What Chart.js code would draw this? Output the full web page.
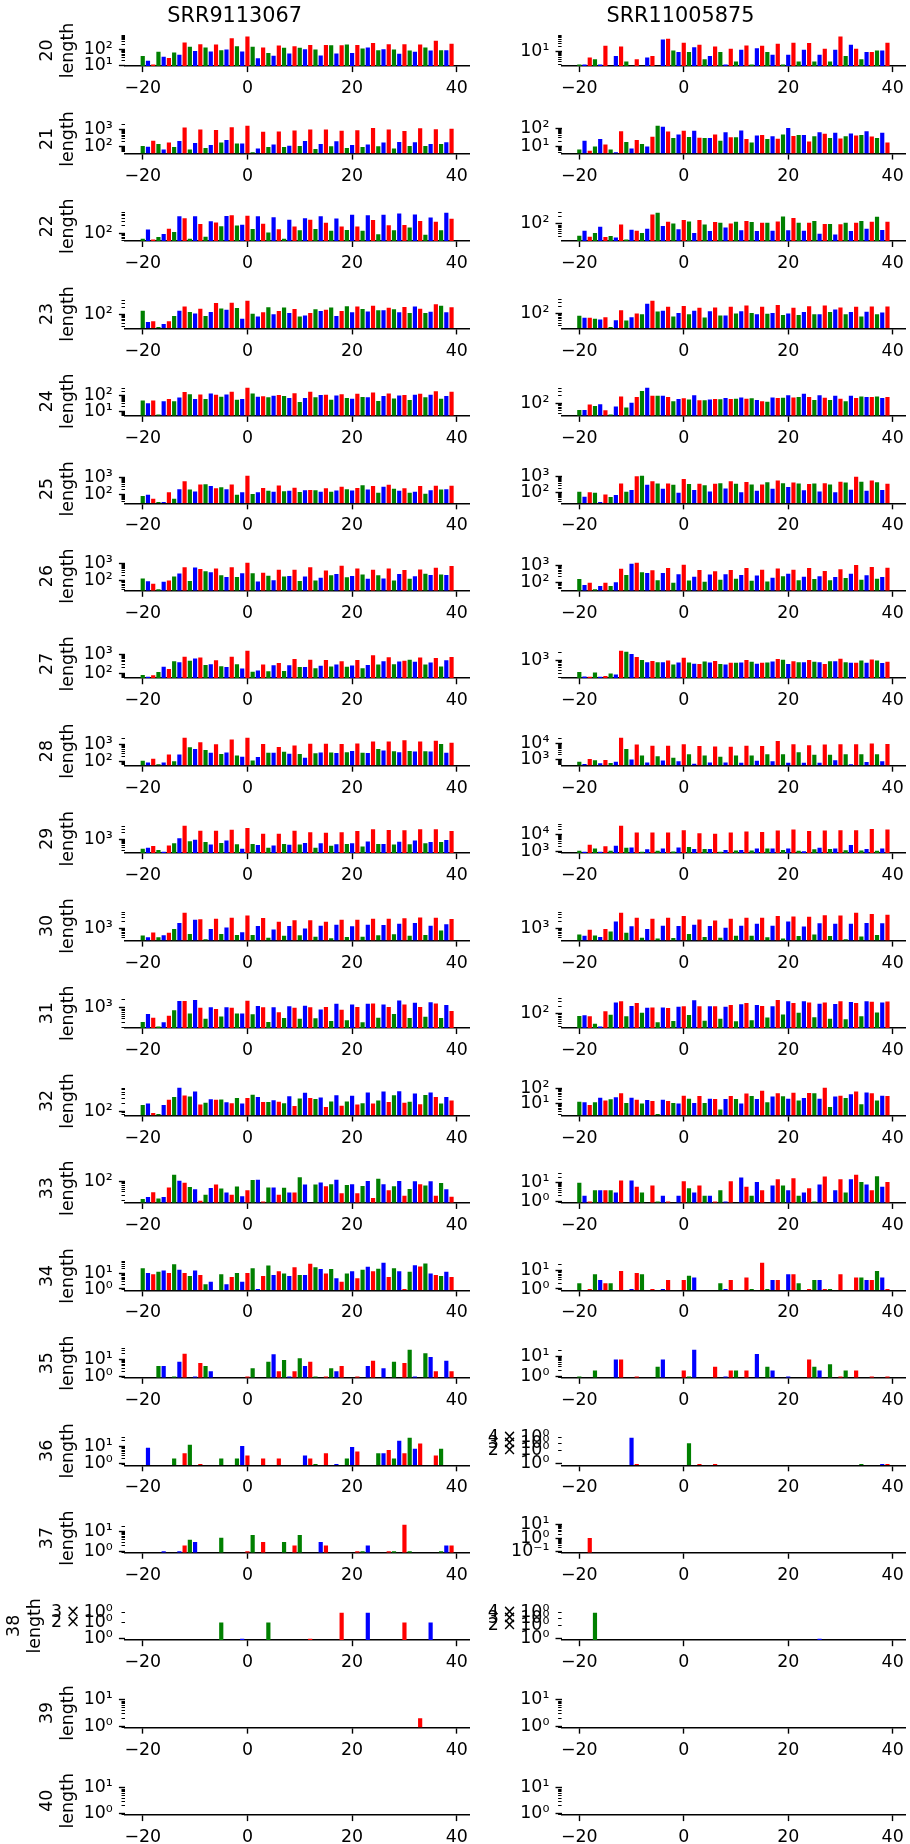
<!DOCTYPE html>
<html>
<head>
<meta charset="utf-8">
<title>Read length frame profiles</title>
<script src="https://cdn.jsdelivr.net/npm/chart.js"></script>
<style>
  html, body { margin: 0; padding: 0; background: #ffffff; }
  #fig { position: relative; width: 910px; height: 1844px; overflow: hidden; background: #ffffff; }
  #fig canvas { position: absolute; }
</style>
</head>
<body>
<div id="fig"></div>
<script>
// Positions relative to the start codon (one bar per nucleotide)
const positions = [-20, -19, -18, -17, -16, -15, -14, -13, -12, -11, -10, -9, -8, -7, -6, -5, -4, -3, -2, -1,
  0, 1, 2, 3, 4, 5, 6, 7, 8, 9, 10, 11, 12, 13, 14, 15, 16, 17, 18, 19,
  20, 21, 22, 23, 24, 25, 26, 27, 28, 29, 30, 31, 32, 33, 34, 35, 36, 37, 38, 39];
const readLengths = [20, 21, 22, 23, 24, 25, 26, 27, 28, 29, 30, 31, 32, 33, 34, 35, 36, 37, 38, 39, 40];
const samples = ['SRR9113067', 'SRR11005875'];
const xTickValues = [-20, 0, 20, 40];
// frame 0 / 1 / 2
const frameColours = ['#ff0000', '#008000', '#0000ff'];

// ---- SRR9113067 read counts per position, one array per read length ----
const srr9113067_20 = [39,19,11,72,35,29,65,47,274,147,79,214,133,74,205,91,100,508,161,74,676,147,28,133,59,40,177,127,56,161,127,105,195,100,42,195,187,56,187,205,59,195,115,133,261,91,105,214,100,53,214,86,72,205,133,86,365,91,91,235];
const srr9113067_21 = [113,102,230,146,69,180,98,222,1400,69,172,1050,85,128,1000,180,250,1450,158,158,1730,49,81,780,100,140,810,100,118,920,113,222,1050,75,146,1050,108,213,880,85,128,960,100,140,1290,108,180,1050,81,195,850,113,187,1230,113,146,1090,146,187,1180];
const srr9113067_22 = [61,141,56,71,94,154,112,487,410,60,487,237,73,307,274,194,500,530,205,224,516,150,487,244,109,447,145,60,355,188,133,410,355,150,487,266,126,398,188,137,562,188,126,530,344,92,562,211,133,630,217,173,580,316,87,433,290,133,668,387];
const srr9113067_23 = [140,45,49,27,37,49,83,140,215,124,106,174,83,124,310,179,158,321,185,63,386,103,78,120,203,100,136,196,113,169,78,88,113,163,136,158,196,83,136,222,120,215,169,132,236,149,149,191,163,120,209,113,215,174,113,128,276,236,120,203];
const srr9113067_24 = [49,32,49,6,43,60,43,76,176,126,60,120,60,139,115,87,120,184,54,60,324,139,87,91,79,100,110,95,72,146,39,72,184,79,110,115,54,105,126,72,63,132,83,79,160,45,95,139,65,105,110,52,115,132,79,115,193,63,95,184];
const srr9113067_25 = [81,96,56,37,37,134,56,204,605,195,152,382,398,310,231,262,204,382,96,134,1230,109,134,240,165,146,337,158,165,251,140,180,187,180,146,231,146,172,285,204,172,240,351,195,310,129,285,366,221,165,231,129,146,310,113,180,324,195,204,324];
const srr9113067_26 = [129,88,63,29,81,98,167,255,600,92,575,465,345,303,505,198,160,600,160,267,1090,267,84,278,190,100,427,167,182,427,92,167,600,96,141,390,198,234,740,153,182,505,225,124,427,198,129,505,96,234,408,124,174,445,245,206,550,225,206,710];
const srr9113067_27 = [83,67,80,120,223,173,431,386,746,465,600,669,278,306,481,240,215,746,299,180,1497,124,144,289,129,268,346,134,268,557,215,215,518,186,249,500,232,289,431,223,258,500,186,278,894,289,431,693,299,416,465,518,402,669,289,373,645,232,481,720];
const srr9113067_28 = [113,92,150,72,92,253,108,253,2240,668,525,1270,464,323,960,275,336,1830,224,191,2240,118,183,1000,323,323,693,364,286,817,275,169,1040,298,336,1040,336,310,1000,350,411,1083,323,310,1380,525,427,1380,395,350,1620,411,380,1380,395,380,1550,1000,323,1170];
const srr9113067_29 = [349,385,469,306,251,501,631,1100,4250,794,936,2510,720,553,2510,652,849,2770,571,349,3380,590,518,1810,385,501,1810,590,535,2510,553,652,2130,385,631,1995,485,571,2130,590,631,2430,440,769,2960,590,590,2680,553,744,2600,571,849,2960,631,720,2960,720,906,2430];
const srr9113067_30 = [509,424,692,424,525,671,970,1790,4930,593,2440,2590,352,970,2750,593,1130,3020,541,713,3750,541,1320,2930,410,940,2030,493,1320,2360,525,1030,2360,450,1360,2030,386,1490,2440,437,1280,2440,450,1490,2750,525,1445,2750,575,1635,2840,493,1790,3110,541,1360,3020,832,1585,2670];
const srr9113067_31 = [308,600,441,210,300,515,815,1755,1755,631,1945,1000,408,1050,903,489,1050,1000,631,631,1800,584,1166,1050,308,1050,699,430,1136,1000,408,1196,1050,419,880,1080,333,1395,858,359,1325,1080,300,1395,1430,441,1325,1080,600,1848,1325,430,1545,1080,476,1585,1430,430,1260,774];
const srr9113067_32 = [171,194,88,81,171,264,333,717,378,350,527,180,210,278,264,271,215,200,308,194,308,408,333,221,221,258,227,200,359,158,293,476,308,285,324,147,233,388,163,233,369,180,200,489,194,251,527,221,388,541,210,227,453,185,398,489,333,194,333,251];
const srr9113067_33 = [22,26,39,23,26,58,167,103,86,60,50,19,32,56,74,54,38,32,63,28,46,108,111,18,58,58,32,57,38,38,136,74,0,74,88,65,77,111,36,72,77,36,66,100,24,120,77,46,65,100,29,51,97,77,68,97,29,84,50,27];
const srr9113067_34 = [22,11,9,13,16,11,40,18,11,7,16,8,2,3,0,9,2,6,11,3,11,22,1,7,33,8,14,10,7,26,8,8,44,26,20,10,20,5,3,10,14,5,18,28,14,21,50,6,22,14,1,13,35,29,46,10,8,7,13,6];
const srr9113067_35 = [0,0,0,4,4,0,1,7,20,0,1,6,4,2,0,0,0,0,0,0,1,3,0,0,7,19,2,9,1,2,11,4,7,1,0,1,3,2,4,0,0,1,0,4,8,0,3,0,7,0,6,34,1,0,22,13,2,0,8,2];
const srr9113067_36 = [0,8,0,0,0,0,2,0,4,12,0,1,0,0,0,2,0,0,2,10,3,0,0,2,0,0,2,0,0,0,0,3,2,1,0,4,0,1,0,2,9,5,0,0,0,4,4,6,2,20,4,29,7,14,0,0,3,7,0,0];
const srr9113067_37 = [0,0,0,0,1,0,0,1,2,4,3,0,0,0,0,5,0,0,0,0,1,7,0,3,0,0,0,3,0,2,7,0,0,0,3,2,0,0,0,0,0,1,1,2,0,0,0,1,1,0,23,1,0,0,0,0,0,1,2,2];
const srr9113067_38 = [0,0,0,0,0,0,0,0,0,0,0,0,0,0,0,2,0,0,0,1,0,0,0,0,2,0,0,0,0,0,0,0,1,0,0,0,0,0,3,0,0,0,0,3,0,0,0,0,0,0,2,0,0,0,0,2,0,0,0,0];
const srr9113067_39 = [0,0,0,0,0,0,0,0,0,0,0,0,0,0,0,0,0,0,0,0,0,0,0,0,0,0,0,0,0,0,0,0,0,0,0,0,0,0,0,0,0,0,0,0,0,0,0,0,0,0,0,0,0,2,0,0,0,0,0,0];
const srr9113067_40 = [0,0,0,0,0,0,0,0,0,0,0,0,0,0,0,0,0,0,0,0,0,0,0,0,0,0,0,0,0,0,0,0,0,0,0,0,0,0,0,0,0,0,0,0,0,0,0,0,0,0,0,0,0,0,0,0,0,0,0,0];

// ---- SRR11005875 read counts per position, one array per read length ----
const srr11005875_20 = [2,2,5,4,2,22,0,6,20,3,0,4,0,5,6,0,49,53,12,10,32,10,18,25,4,6,20,10,2,15,3,13,23,2,16,22,10,7,28,2,7,32,3,13,31,3,7,15,3,13,72,6,25,15,4,10,10,12,12,32];
const srr11005875_21 = [7,21,6,10,26,13,7,5,68,18,8,23,14,10,34,135,120,66,29,46,74,33,74,30,29,29,46,21,61,32,32,76,26,17,40,43,26,37,27,46,104,38,43,43,19,37,61,50,29,56,28,37,52,40,43,68,36,29,56,17];
const srr11005875_22 = [33,53,30,43,77,29,32,28,94,23,58,53,43,63,244,282,82,122,103,61,145,126,43,145,94,52,119,112,71,103,122,55,133,119,52,112,112,53,126,200,55,173,112,53,112,133,40,100,100,37,97,112,52,112,133,63,122,194,56,122];
const srr11005875_23 = [81,67,67,61,56,71,27,52,140,51,71,103,94,267,352,124,132,196,76,106,215,94,132,179,69,128,185,83,83,196,103,128,222,106,94,196,100,106,236,88,103,179,88,117,209,94,94,222,117,149,185,94,117,196,76,120,203,94,113,203];
const srr11005875_24 = [53,53,89,77,92,52,35,73,188,67,106,178,316,422,200,200,200,178,122,150,158,141,211,133,133,141,150,145,163,150,154,173,154,158,137,122,115,173,163,168,211,173,178,244,178,137,211,168,137,200,154,122,200,163,188,178,178,188,163,178];
const srr11005875_25 = [119,59,109,104,28,81,57,74,385,119,154,1090,1140,323,521,385,184,385,323,104,738,352,154,368,296,124,368,400,192,521,368,109,478,338,135,338,457,184,594,400,238,437,385,148,352,385,124,400,338,109,500,437,161,1000,500,135,594,457,154,368];
const srr11005875_26 = [152,66,92,37,58,92,58,98,606,262,1180,1340,382,337,490,129,337,660,92,285,1040,123,204,512,104,273,433,134,285,512,158,262,660,118,240,533,109,180,630,221,310,533,129,204,660,152,221,452,129,195,556,172,310,1000,134,251,777,158,195,686];
const srr11005875_27 = [335,218,211,316,211,230,290,266,2440,2240,1830,1370,1030,841,944,841,841,972,668,818,1260,818,729,708,891,818,944,708,668,794,794,818,1030,866,729,794,818,891,1120,1060,708,917,841,841,1030,866,841,708,917,917,1155,841,794,794,972,794,1090,972,772,866];
const srr11005875_28 = [767,562,1140,957,614,1000,642,767,22400,4700,1045,8740,1860,702,7330,1700,915,7330,1365,838,9140,2220,588,7020,1860,702,6720,1560,702,6440,1860,672,7330,1860,876,7020,2220,838,14200,2220,672,9140,2890,672,8000,2030,672,8740,2030,957,9140,2220,538,9140,2220,733,10000,2220,838,9570];
const srr11005875_29 = [1090,960,2510,1520,960,2040,1090,2210,34100,1650,1720,13400,960,1340,13400,1090,1520,13400,1000,1720,18700,1870,1400,12300,1400,1400,11300,960,1230,13400,1130,1230,15800,1130,1520,14500,1520,1520,18000,1230,1520,20400,1090,1040,16600,1340,1650,18000,1400,1520,18700,1180,2410,18700,1130,1400,22100,1090,1520,20400];
const srr11005875_30 = [558,493,912,509,437,970,759,2090,4930,671,1280,3020,410,970,2750,374,1360,3020,398,1320,3630,593,1490,2510,437,1320,2290,410,1100,2750,493,1360,3020,493,1635,3020,424,1360,3630,374,2090,3410,479,1240,3310,558,1740,3860,479,1635,3750,352,1635,4930,464,1790,4370,541,1740,4100];
const srr11005875_31 = [82,87,79,40,31,126,92,282,316,79,205,266,109,173,178,46,178,168,52,188,200,89,345,200,53,200,200,63,188,224,50,237,266,56,224,205,71,200,355,94,316,266,109,316,282,73,251,282,63,244,316,60,290,266,79,316,299,112,282,307];
const srr11005875_32 = [13,12,8,12,24,16,19,26,48,11,24,18,10,17,15,2,18,15,11,10,33,21,11,32,11,21,20,4,20,32,20,10,46,32,20,72,12,29,48,30,21,52,16,23,50,48,21,110,6,29,33,23,42,63,9,55,48,16,33,32];
const srr11005875_33 = [10,2,1,4,4,4,4,3,13,0,13,6,3,0,7,1,2,1,0,2,12,5,3,7,2,2,1,4,1,12,0,19,6,2,11,4,0,7,15,7,4,17,2,3,5,1,8,21,0,4,15,3,15,26,11,8,4,22,6,11];
const srr11005875_34 = [2,0,1,6,3,2,2,0,9,0,1,7,6,0,1,0,1,3,0,0,3,5,4,0,0,0,0,2,1,3,0,0,4,1,0,24,1,3,3,0,6,6,2,0,1,3,3,1,1,0,6,0,0,4,4,3,3,9,4,1];
const srr11005875_35 = [1,0,0,2,0,0,0,7,7,0,0,1,0,0,0,3,7,0,0,0,2,1,21,0,0,0,3,0,1,2,2,0,2,0,13,0,3,2,0,0,1,0,0,0,7,3,2,0,4,0,1,2,0,2,0,0,1,0,0,1];
const srr11005875_36 = [0,0,0,0,0,0,0,0,0,0,4,1,0,0,0,0,0,0,0,0,0,3,0,1,0,0,1,0,0,0,0,0,0,0,0,0,0,0,0,0,0,0,0,0,0,0,0,0,0,0,0,0,0,0,1,0,0,0,1,1];
const srr11005875_37 = [0,0,1,0,0,0,0,0,0,0,0,0,0,0,0,0,0,0,0,0,0,0,0,0,0,0,0,0,0,0,0,0,0,0,0,0,0,0,0,0,0,0,0,0,0,0,0,0,0,0,0,0,0,0,0,0,0,0,0,0];
const srr11005875_38 = [0,0,0,4,0,0,0,0,0,0,0,0,0,0,0,0,0,0,0,0,0,0,0,0,0,0,0,0,0,0,0,0,0,0,0,0,0,0,0,0,0,0,0,0,0,0,1,0,0,0,0,0,0,0,0,0,0,0,0,0];
const srr11005875_39 = [0,0,0,0,0,0,0,0,0,0,0,0,0,0,0,0,0,0,0,0,0,0,0,0,0,0,0,0,0,0,0,0,0,0,0,0,0,0,0,0,0,0,0,0,0,0,0,0,0,0,0,0,0,0,0,0,0,0,0,0];
const srr11005875_40 = [0,0,0,0,0,0,0,0,0,0,0,0,0,0,0,0,0,0,0,0,0,0,0,0,0,0,0,0,0,0,0,0,0,0,0,0,0,0,0,0,0,0,0,0,0,0,0,0,0,0,0,0,0,0,0,0,0,0,0,0];

const countsBySample = [
  [srr9113067_20, srr9113067_21, srr9113067_22, srr9113067_23, srr9113067_24, srr9113067_25, srr9113067_26,
   srr9113067_27, srr9113067_28, srr9113067_29, srr9113067_30, srr9113067_31, srr9113067_32, srr9113067_33,
   srr9113067_34, srr9113067_35, srr9113067_36, srr9113067_37, srr9113067_38, srr9113067_39, srr9113067_40],
  [srr11005875_20, srr11005875_21, srr11005875_22, srr11005875_23, srr11005875_24, srr11005875_25, srr11005875_26,
   srr11005875_27, srr11005875_28, srr11005875_29, srr11005875_30, srr11005875_31, srr11005875_32, srr11005875_33,
   srr11005875_34, srr11005875_35, srr11005875_36, srr11005875_37, srr11005875_38, srr11005875_39, srr11005875_40]
];

// ---- layout (pixels) ----
const FONT_FAMILY = 'DejaVu Sans';
const TICK_SIZE = 17.4, TITLE_SIZE = 20.8, LINE_H = 1.2;
const MAJOR_TICK = 6.1, MINOR_TICK = 3.5, TICK_PAD = 6.1;
const FIRST_AXIS = 66, ROW_STEP = 87.45, PLOT_H = 31, TOP_PAD = 14, CANVAS_H = 88;
const BAR_WIDTH = 0.8;
const columns = [
  { left: 0,   width: 480, plotLeft: 125.0, plotRight: 469.3, yTitle: true },
  { left: 455, width: 455, plotLeft: 561.6, plotRight: 905.9, yTitle: false }
];

// x limits: bar extents plus 5% margins
const xLo = Math.min(...positions) - BAR_WIDTH / 2, xHi = Math.max(...positions) + BAR_WIDTH / 2;
const xMargin = 0.05 * (xHi - xLo);
const X_MIN = xLo - xMargin, X_MAX = xHi + xMargin;

function frameColour(x) { return frameColours[((x % 3) + 3) % 3]; }

function nearInt(v) { return Math.abs(v - Math.round(v)) < 1e-9; }

// log-axis view limits: positive data range widened to whole decades when flat, plus 5% margins
function viewLimits(values) {
  const pos = values.filter(v => v > 0);
  let lo, hi;
  if (pos.length === 0) { lo = 0; hi = 1; }
  else {
    lo = Math.log10(Math.min(...pos));
    hi = Math.log10(Math.max(...pos));
    if (hi - lo < 1e-12) {
      lo = nearInt(lo) ? Math.round(lo) - 1 : Math.floor(lo);
      hi = nearInt(hi) ? Math.round(hi) + 1 : Math.ceil(hi);
    }
  }
  const m = 0.05 * (hi - lo);
  return [Math.pow(10, lo - m), Math.pow(10, hi + m)];
}

function logTickValues(min, max) {
  const out = [];
  const e0 = Math.floor(Math.log10(min)), e1 = Math.ceil(Math.log10(max));
  for (let e = e0; e <= e1; e++) {
    for (let k = 1; k <= 9; k++) {
      const v = k * Math.pow(10, e);
      if (v >= min && v <= max) out.push(v);
    }
  }
  return out;
}

function parts(v) {
  const e = Math.floor(Math.log10(v) + 1e-9);
  const k = Math.round(v / Math.pow(10, e));
  return { e, k };
}

const SUP = { '0': '\u2070', '1': '\u00b9', '2': '\u00b2', '3': '\u00b3', '4': '\u2074', '5': '\u2075',
  '6': '\u2076', '7': '\u2077', '8': '\u2078', '9': '\u2079', '-': '\u207b' };
function sup(n) { return String(n).split('').map(c => SUP[c]).join(''); }

// decade labels always; in-between labels only on short axes
function yLabel(v, span) {
  const { e, k } = parts(v);
  if (k === 1) return '10' + sup(e);
  if (span > 1) return '';
  if (span > 0.4 && ![2, 3, 4, 6].includes(k)) return '';
  return k + '\u2009\u00d7\u200910' + sup(e);
}

function xLabel(v) { return v < 0 ? '\u2212' + Math.abs(v) : String(v); }

function isDecadeTick(tick) { return !tick || parts(tick.value).k === 1; }

const measureCtx = document.createElement('canvas').getContext('2d');
measureCtx.font = TICK_SIZE + 'px "' + FONT_FAMILY + '"';

const fig = document.getElementById('fig');

samples.forEach((sample, c) => {
  const col = columns[c];
  readLengths.forEach((len, r) => {
    const values = countsBySample[c][r];
    const [yMin, yMax] = viewLimits(values);
    const span = Math.log10(yMax) - Math.log10(yMin);
    const yTicks = logTickValues(yMin, yMax);
    const maxLabelW = Math.max(0, ...yTicks.map(v => measureCtx.measureText(yLabel(v, span)).width));

    const axisBottom = FIRST_AXIS + r * ROW_STEP;
    const plotTop = axisBottom - PLOT_H;
    let canvasTop, padTop, canvasH;
    if (r === 0) { canvasTop = 0; padTop = 0; canvasH = Math.ceil(axisBottom) + 44; }
    else { canvasTop = Math.floor(plotTop - TOP_PAD); padTop = plotTop - canvasTop; canvasH = CANVAS_H; }
    const xAxisH = canvasH - (plotTop - canvasTop) - PLOT_H;
    const yAxisW = col.plotLeft - col.left;

    const lineH = TICK_SIZE * LINE_H;
    const labelLeft = yAxisW - MAJOR_TICK - TICK_PAD - maxLabelW;
    const yTitlePad = labelLeft - 15.3 - 1.5 * lineH;

    const canvas = document.createElement('canvas');
    canvas.width = col.width; canvas.height = canvasH;
    canvas.style.left = col.left + 'px'; canvas.style.top = canvasTop + 'px';
    canvas.style.width = col.width + 'px'; canvas.style.height = canvasH + 'px';
    fig.appendChild(canvas);

    const titleLineH = TITLE_SIZE * LINE_H;
    new Chart(canvas, {
      type: 'bar',
      data: {
        datasets: [{
          data: positions.map((x, i) => ({ x: x, y: values[i] > 0 ? values[i] : null })),
          backgroundColor: positions.map(frameColour),
          borderWidth: 0,
          categoryPercentage: BAR_WIDTH,
          barPercentage: 1.0
        }]
      },
      options: {
        responsive: false,
        devicePixelRatio: 1,
        animation: false,
        events: [],
        layout: { padding: { left: 0, top: padTop, right: col.left + col.width - col.plotRight, bottom: 0 } },
        plugins: {
          legend: { display: false },
          tooltip: { enabled: false },
          title: {
            display: r === 0,
            text: sample,
            color: '#000000',
            font: { family: FONT_FAMILY, size: TITLE_SIZE, weight: 'normal', lineHeight: LINE_H },
            padding: { top: 4.5, bottom: plotTop - titleLineH - 4.5 }
          }
        },
        scales: {
          x: {
            type: 'linear',
            min: X_MIN, max: X_MAX,
            bounds: 'data',
            offset: false,
            afterBuildTicks: scale => { scale.ticks = xTickValues.map(v => ({ value: v })); },
            afterFit: scale => { scale.height = xAxisH; },
            grid: { display: true, offset: false, drawOnChartArea: false, drawTicks: true,
                    tickLength: MAJOR_TICK, tickWidth: 1.4, tickColor: '#000000' },
            border: { display: true, color: '#000000', width: 1.4 },
            ticks: {
              autoSkip: false, maxRotation: 0, minRotation: 0, padding: TICK_PAD, color: '#000000',
              font: { family: FONT_FAMILY, size: TICK_SIZE, lineHeight: LINE_H },
              callback: v => xLabel(v)
            }
          },
          y: {
            type: 'logarithmic',
            min: yMin, max: yMax,
            bounds: 'data',
            beginAtZero: false,
            afterBuildTicks: scale => { scale.ticks = yTicks.map(v => ({ value: v })); },
            afterFit: scale => { scale.width = yAxisW; },
            grid: {
              display: true, drawOnChartArea: false, drawTicks: true,
              tickLength: MAJOR_TICK, tickColor: '#000000',
              tickWidth: ctx => isDecadeTick(ctx.tick) ? 1.4 : 1.0,
              tickBorderDash: ctx => isDecadeTick(ctx.tick) ? [] : [0, MAJOR_TICK - MINOR_TICK, MINOR_TICK, 50]
            },
            border: { display: false },
            ticks: {
              autoSkip: false, padding: TICK_PAD, color: '#000000',
              font: { family: FONT_FAMILY, size: TICK_SIZE, lineHeight: LINE_H },
              callback: v => yLabel(v, span)
            },
            title: {
              display: col.yTitle,
              text: [String(len), 'length'],
              color: '#000000',
              font: { family: FONT_FAMILY, size: TICK_SIZE, lineHeight: LINE_H },
              padding: { top: yTitlePad, bottom: 0 }
            }
          }
        }
      }
    });
  });
});
</script>
</body>
</html>
